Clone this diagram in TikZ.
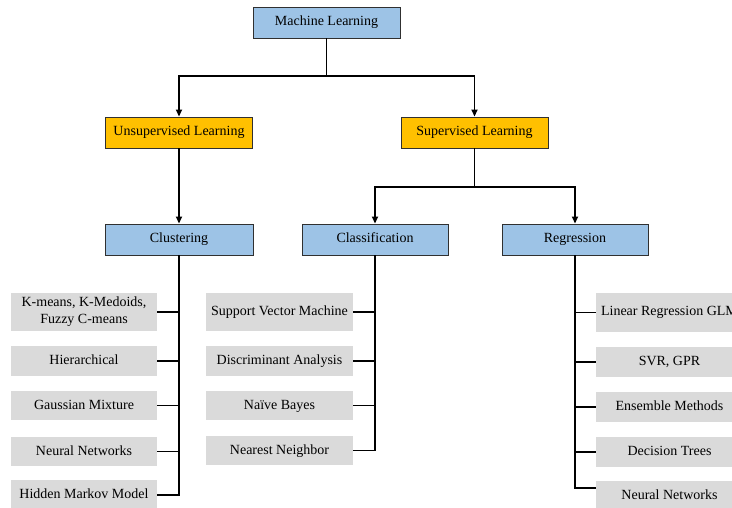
\documentclass[tikz,border=0pt]{standalone}
\usepackage{fontspec}
\setmainfont{Liberation Serif}
\usetikzlibrary{arrows.meta,calc}
\definecolor{boxblue}{HTML}{9DC3E6}
\definecolor{boxorange}{HTML}{FFC000}
\definecolor{leafgray}{HTML}{DADADA}
\definecolor{edgedark}{HTML}{303030}
\tikzset{
  topbox/.style={draw=edgedark, line width=0.9pt, fill=boxblue, minimum width=147pt, minimum height=31pt, inner sep=0pt, text height=10pt, text depth=3pt, font=\fontsize{14}{16}\selectfont},
  midbox/.style={draw=edgedark, line width=0.9pt, fill=boxorange, minimum width=147pt, minimum height=31pt, inner sep=0pt, text height=10pt, text depth=3pt, font=\fontsize{14}{16}\selectfont},
  leaf/.style={fill=leafgray, minimum width=146pt, inner sep=0pt, align=center, font=\fontsize{14}{17}\selectfont},
  oneline/.style={text height=10pt, text depth=3pt},
  conn/.style={line width=1.6pt, black},
  arr/.style={conn, -{Triangle[length=7pt,width=6pt]}},
}
\begin{document}
\begin{tikzpicture}[x=1pt,y=-1pt]
\clip (0,0) rectangle (732,508);
\useasboundingbox (0,0) rectangle (732,508);
\fill[white] (0,0) rectangle (732,508);
% main boxes
\node[topbox] (ml) at (326.5,22.5) {Machine Learning};
\node[midbox] (unsup) at (179,132.5) {Unsupervised Learning};
\node[midbox] (sup) at (474.5,132.5) {Supervised Learning};
\node[topbox, minimum width=148pt] (clu) at (179,239.5) {Clustering};
\node[topbox, minimum width=146pt] (cls) at (375,239.5) {Classification};
\node[topbox, minimum width=146pt] (reg) at (575,239.5) {Regression};
% left leaves
\node[leaf, minimum height=38pt] (km) at (84,312) {K-means, K-Medoids,\\Fuzzy C-means};
\node[leaf, oneline, minimum height=30pt] (hier) at (84,361) {Hierarchical};
\node[leaf, oneline, minimum height=29pt] (gm) at (84,405.5) {Gaussian Mixture};
\node[leaf, oneline, minimum height=29pt] (nnl) at (84,451.5) {Neural Networks};
\node[leaf, oneline, minimum height=30pt] (hmm) at (84,495) {Hidden Markov Model};
% middle leaves
\node[leaf, oneline, minimum width=147pt, minimum height=38pt] (svm) at (279.5,312) {Support Vector Machine};
\node[leaf, oneline, minimum width=147pt, minimum height=30pt] (da) at (279.5,361) {Discriminant Analysis};
\node[leaf, oneline, minimum width=147pt, minimum height=29pt] (nb) at (279.5,405.5) {Naïve Bayes};
\node[leaf, oneline, minimum width=147pt, minimum height=29pt] (nn) at (279.5,450.5) {Nearest Neighbor};
% right leaves
\node[leaf, oneline, minimum width=147pt, minimum height=39pt] (lr) at (669.5,312.5) {Linear Regression GLM};
\node[leaf, oneline, minimum width=147pt, minimum height=30pt] (svr) at (669.5,362) {SVR, GPR};
\node[leaf, oneline, minimum width=147pt, minimum height=30pt] (ens) at (669.5,407) {Ensemble Methods};
\node[leaf, oneline, minimum width=147pt, minimum height=30pt] (dt) at (669.5,452) {Decision Trees};
\node[leaf, oneline, minimum width=147pt, minimum height=29pt] (nnr) at (669.5,495.5) {Neural Networks};
% top connectors
\coordinate (s1) at (326.5,76);
\draw[conn] (ml.south) -- (s1);
\draw[arr] (s1) -| (unsup.north);
\draw[arr] (s1) -| (sup.north);
\draw[arr] (unsup.south) -- (clu.north);
\coordinate (s2) at (474.5,187);
\draw[conn] (sup.south) -- (s2);
\draw[arr] (s2) -| (cls.north);
\draw[arr] (s2) -| (reg.north);
% clustering spine
\draw[conn] (clu.south) |- (hmm.east);
\foreach \n in {km,hier,gm,nnl} \draw[conn] (\n.east) -- (\n.east -| clu.south);
% classification spine
\draw[conn] (cls.south) |- (nn.east);
\foreach \n in {svm,da,nb} \draw[conn] (\n.east) -- (\n.east -| cls.south);
% regression spine
\draw[conn] (reg.south) |- ([yshift=7.5pt]nnr.west);
\foreach \n in {lr,svr,ens,dt} \draw[conn] (\n.west) -- (\n.west -| reg.south);
\end{tikzpicture}
\end{document}
